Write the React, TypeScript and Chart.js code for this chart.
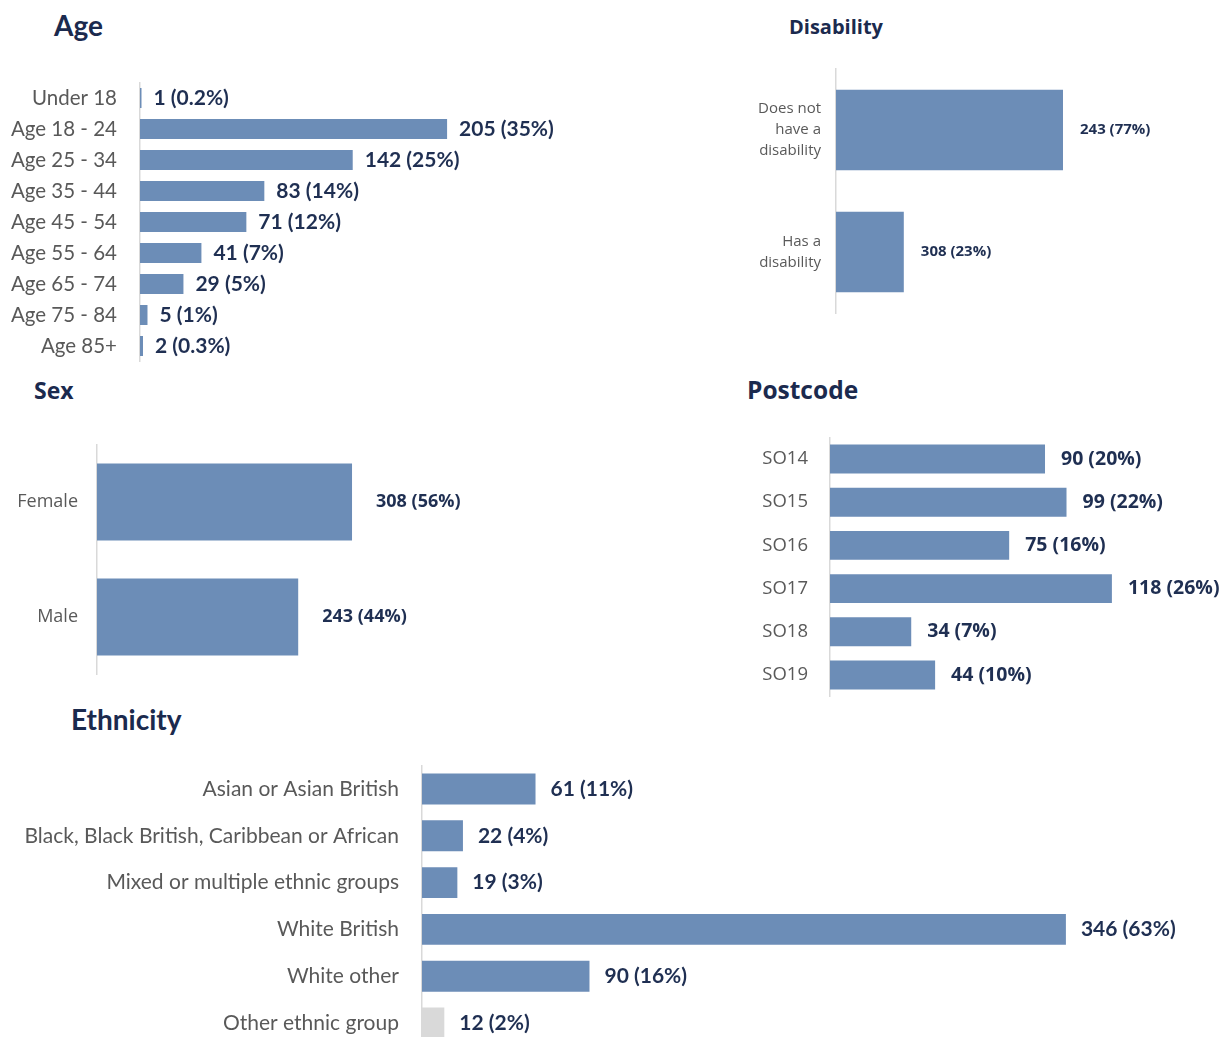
import React, { useEffect, useRef } from "react";
import { Chart, registerables } from "chart.js";

Chart.register(...registerables);

// ---------------- data ----------------
const ageCategories = ["Under 18", "Age 18 - 24", "Age 25 - 34", "Age 35 - 44", "Age 45 - 54", "Age 55 - 64", "Age 65 - 74", "Age 75 - 84", "Age 85+"];
const ageCounts = [1, 205, 142, 83, 71, 41, 29, 5, 2];
const agePercents = ["0.2", "35", "25", "14", "12", "7", "5", "1", "0.3"];

const disabilityCategories = [["Does not", "have a", "disability"], ["Has a", "disability"]];
const disabilityPercents = [77, 23];
const disabilityCounts = [243, 308];

const sexCategories = ["Female", "Male"];
const sexCounts = [308, 243];
const sexPercents = ["56", "44"];

const postcodeCategories = ["SO14", "SO15", "SO16", "SO17", "SO18", "SO19"];
const postcodeCounts = [90, 99, 75, 118, 34, 44];
const postcodePercents = ["20", "22", "16", "26", "7", "10"];

const ethnicityCategories = ["Asian or Asian British", "Black, Black British, Caribbean or African", "Mixed or multiple ethnic groups", "White British", "White other", "Other ethnic group"];
const ethnicityCounts = [61, 22, 19, 346, 90, 12];
const ethnicityPercents = ["11", "4", "3", "63", "16", "2"];

// ---------------- styles ----------------
const BAR = "#6c8db7";
const GREY_BAR = "#d9d9d9";
const VALUE_COLOR = "#1f2f52";
const TICK_COLOR = "#595959";
const TITLE_COLOR = "#1b2a4e";
const CAL = "Lato, 'Liberation Sans', sans-serif";
const SEG = "'Open Sans', 'Noto Sans', sans-serif";

type BoxProps = {
  left: number; top: number; width: number; height: number;
  labels: any[]; values: number[]; texts: string[]; colors?: string[];
  axisW: number; pxPerUnit: number; padTop: number; padBottom: number; catPct: number;
  tickFont: string; tickSize: number; tickPad: number; tickLineHeight?: number;
  valFont: string; valSize: number; valOffset: number;
};

function BarBox(p: BoxProps) {
  const ref = useRef<HTMLCanvasElement | null>(null);
  useEffect(() => {
    if (!ref.current) return;
    const texts = p.texts;
    const valuePlugin = {
      id: "valueLabels",
      afterDatasetsDraw(chart: any) {
        const ctx = chart.ctx;
        const meta = chart.getDatasetMeta(0);
        ctx.save();
        ctx.font = `bold ${p.valSize}px ${p.valFont}`;
        ctx.fillStyle = VALUE_COLOR;
        ctx.textAlign = "left";
        ctx.textBaseline = "middle";
        meta.data.forEach((el: any, i: number) => {
          ctx.fillText(texts[i], el.x + p.valOffset, el.y);
        });
        ctx.restore();
      },
    };
    const max = (p.width - p.axisW) / p.pxPerUnit;
    const chart = new Chart(ref.current, {
      type: "bar",
      data: {
        labels: p.labels,
        datasets: [{
          data: p.values,
          backgroundColor: p.colors ?? p.values.map(() => BAR),
          borderWidth: 0,
          barPercentage: 1,
          categoryPercentage: p.catPct,
        }],
      },
      options: {
        indexAxis: "y",
        animation: false,
        responsive: false,
        maintainAspectRatio: false,
        layout: { padding: { top: p.padTop, bottom: p.padBottom, left: 0, right: 0 } },
        plugins: { legend: { display: false }, tooltip: { enabled: false }, title: { display: false } },
        scales: {
          x: { display: false, min: 0, max },
          y: {
            grid: { display: false, drawTicks: false },
            border: { display: true, color: "#d9d9d9", width: 1.5 },
            ticks: {
              color: TICK_COLOR,
              padding: p.tickPad,
              font: { family: p.tickFont, size: p.tickSize, lineHeight: p.tickLineHeight ?? 1.2 },
            },
            afterFit(scale: any) {
              scale.width = p.axisW;
              scale.paddingTop = 0;
              scale.paddingBottom = 0;
            },
          },
        },
      },
      plugins: [valuePlugin],
    } as any);
    return () => chart.destroy();
  }, []);
  return (
    <canvas
      ref={ref}
      width={p.width}
      height={p.height}
      style={{ position: "absolute", left: p.left, top: p.top, width: p.width, height: p.height }}
    />
  );
}

function Title(props: { text: string; x: number; cy: number; size: number; font: string }) {
  return (
    <div
      style={{
        position: "absolute", left: props.x, top: props.cy - props.size / 2, height: props.size,
        lineHeight: `${props.size}px`, fontSize: props.size, fontFamily: props.font, fontWeight: 700,
        color: TITLE_COLOR, whiteSpace: "nowrap",
      }}
    >
      {props.text}
    </div>
  );
}

const fmt = (c: number[], pc: string[]) => c.map((v, i) => `${v} (${pc[i]}%)`);

export default function App() {
  return (
    <div style={{ position: "fixed", left: 0, top: 0, width: 1228, height: 1037, overflow: "hidden", background: "#fff" }}>
      <Title text="Age" x={54} cy={25} size={28} font={CAL} />
      <Title text="Disability" x={789} cy={27} size={20} font={SEG} />
      <Title text="Sex" x={34} cy={390} size={23} font={SEG} />
      <Title text="Postcode" x={747} cy={390} size={24.5} font={SEG} />
      <Title text="Ethnicity" x={71} cy={719} size={28} font={CAL} />

      <BarBox left={0} top={70} width={600} height={300}
        labels={ageCategories} values={ageCounts} texts={fmt(ageCounts, agePercents)}
        axisW={140} pxPerUnit={1.498} padTop={12.5} padBottom={8.5} catPct={0.65}
        tickFont={CAL} tickSize={20.5} tickPad={23} valFont={CAL} valSize={21} valOffset={12} />

      <BarBox left={620} top={60} width={608} height={260}
        labels={disabilityCategories} values={disabilityPercents}
        texts={disabilityCounts.map((c, i) => `${c} (${disabilityPercents[i]}%)`)}
        axisW={216} pxPerUnit={2.948} padTop={9} padBottom={7} catPct={0.66}
        tickFont={SEG} tickSize={15} tickPad={15} tickLineHeight={1.4} valFont={SEG} valSize={15} valOffset={17} />

      <BarBox left={0} top={430} width={520} height={260}
        labels={sexCategories} values={sexCounts} texts={fmt(sexCounts, sexPercents)}
        axisW={97} pxPerUnit={0.828} padTop={14.5} padBottom={15.5} catPct={0.67}
        tickFont={SEG} tickSize={18} tickPad={19} valFont={SEG} valSize={18} valOffset={24} />

      <BarBox left={700} top={425} width={528} height={285}
        labels={postcodeCategories} values={postcodeCounts} texts={fmt(postcodeCounts, postcodePercents)}
        axisW={130} pxPerUnit={2.389} padTop={12.4} padBottom={13.4} catPct={0.67}
        tickFont={SEG} tickSize={18.5} tickPad={22} valFont={SEG} valSize={19.5} valOffset={16} />

      <BarBox left={0} top={750} width={1228} height={310}
        labels={ethnicityCategories} values={ethnicityCounts} texts={fmt(ethnicityCounts, ethnicityPercents)}
        colors={ethnicityCounts.map((_, i) => (i === ethnicityCounts.length - 1 ? GREY_BAR : BAR))}
        axisW={422} pxPerUnit={1.861} padTop={15.6} padBottom={13.6} catPct={0.66}
        tickFont={CAL} tickSize={21} tickPad={23} valFont={CAL} valSize={21} valOffset={15} />
    </div>
  );
}
